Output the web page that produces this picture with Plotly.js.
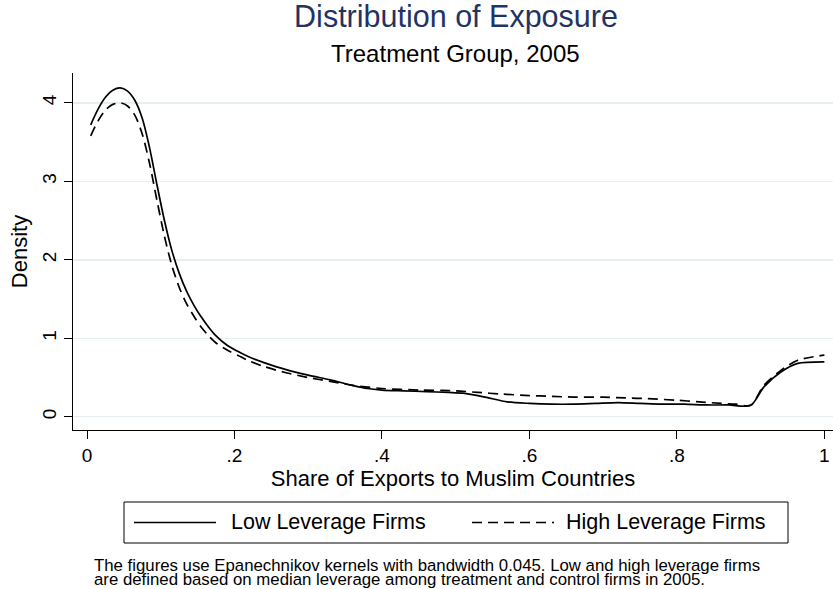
<!DOCTYPE html>
<html>
<head>
<meta charset="utf-8">
<script src="https://cdn.plot.ly/plotly-3.0.1.min.js"></script>
<style>
  html, body { margin: 0; padding: 0; background: #ffffff; }
  #chart { width: 833px; height: 589px; }
</style>
</head>
<body>
<div id="chart"></div>
<script>
// Kernel density estimates of export share, treatment firms in 2005
const lowX = [0.005, 0.015, 0.025, 0.035, 0.045, 0.055, 0.065, 0.075, 0.085, 0.095,
  0.105, 0.115, 0.125, 0.135, 0.145, 0.155, 0.165, 0.175, 0.19, 0.205, 0.22, 0.24,
  0.27, 0.30, 0.33, 0.36, 0.38, 0.40, 0.43, 0.46, 0.49, 0.51, 0.54, 0.57, 0.60,
  0.63, 0.66, 0.69, 0.72, 0.75, 0.78, 0.81, 0.84, 0.87, 0.90, 0.918, 0.941, 0.964, 1.0];
const lowY = [3.72, 3.92, 4.07, 4.16, 4.19, 4.15, 4.03, 3.80, 3.42, 2.95,
  2.50, 2.12, 1.83, 1.60, 1.42, 1.27, 1.14, 1.03, 0.91, 0.83, 0.76, 0.69,
  0.60, 0.53, 0.47, 0.40, 0.36, 0.34, 0.33, 0.32, 0.31, 0.30, 0.25, 0.19, 0.17,
  0.16, 0.16, 0.17, 0.18, 0.17, 0.16, 0.16, 0.15, 0.15, 0.145, 0.38, 0.57, 0.68, 0.70];

const highX = [0.005, 0.015, 0.025, 0.035, 0.045, 0.055, 0.065, 0.075, 0.085, 0.095,
  0.105, 0.115, 0.125, 0.135, 0.145, 0.155, 0.165, 0.175, 0.19, 0.205, 0.22, 0.24,
  0.27, 0.30, 0.33, 0.36, 0.40, 0.45, 0.50, 0.53, 0.56, 0.60, 0.63, 0.66, 0.70,
  0.73, 0.76, 0.80, 0.83, 0.86, 0.88, 0.90, 0.918, 0.941, 0.964, 1.0];
const highY = [3.58, 3.77, 3.91, 3.98, 4.00, 3.96, 3.84, 3.60, 3.22, 2.75,
  2.30, 1.93, 1.65, 1.44, 1.28, 1.14, 1.03, 0.94, 0.85, 0.78, 0.71, 0.64,
  0.56, 0.50, 0.45, 0.40, 0.36, 0.34, 0.33, 0.31, 0.29, 0.27, 0.26, 0.25, 0.25,
  0.24, 0.23, 0.21, 0.19, 0.17, 0.16, 0.145, 0.40, 0.59, 0.72, 0.785];

const xTickVals = [0, 0.2, 0.4, 0.6, 0.8, 1];
const xTickText = ['0', '.2', '.4', '.6', '.8', '1'];
const yTickVals = [0, 1, 2, 3, 4];

const seriesNames = ['Low Leverage Firms', 'High Leverage Firms'];
const noteLines = [
  'The figures use Epanechnikov kernels with bandwidth 0.045. Low and high leverage firms',
  'are defined based on median leverage among treatment and control firms in 2005.'
];

// plot area in pixels
const L = 73, R = 833, T = 73, B = 430;
const px2x = p => (p - L) / (R - L);
const py2y = p => (B - p) / (B - T);

const FONT = 'Liberation Sans, Arial, Helvetica, sans-serif';
const DASH = '10px,6px';

const traces = [
  { x: lowX, y: lowY, name: seriesNames[0], type: 'scatter', mode: 'lines',
    line: { color: '#000000', width: 1.7, shape: 'spline', smoothing: 0.8 },
    hoverinfo: 'x+y+name' },
  { x: highX, y: highY, name: seriesNames[1], type: 'scatter', mode: 'lines',
    line: { color: '#000000', width: 1.7, dash: DASH, shape: 'spline', smoothing: 0.8 },
    hoverinfo: 'x+y+name' }
];

// key box below the plot
const shapes = [
  { type: 'rect', xref: 'paper', yref: 'paper',
    x0: px2x(124), x1: px2x(788), y0: py2y(543), y1: py2y(502),
    line: { color: '#000000', width: 1 }, fillcolor: 'rgba(0,0,0,0)' },
  { type: 'line', xref: 'paper', yref: 'paper',
    x0: px2x(134), x1: px2x(216), y0: py2y(522.5), y1: py2y(522.5),
    line: { color: '#000000', width: 1.7 } },
  { type: 'line', xref: 'paper', yref: 'paper',
    x0: px2x(472), x1: px2x(554), y0: py2y(522.5), y1: py2y(522.5),
    line: { color: '#000000', width: 1.7, dash: DASH } }
];

// note set in one block; small base size keeps the two lines close together
const noteText = noteLines
  .map(s => '<span style="font-size:16.8px">' + s + '</span>')
  .join('<br>');

const annotations = [
  { text: 'Treatment Group, 2005', xref: 'paper', yref: 'paper',
    x: px2x(456), y: py2y(53.5), xanchor: 'center', yanchor: 'middle',
    showarrow: false, font: { family: FONT, size: 24, color: '#000000' } },
  { text: seriesNames[0], xref: 'paper', yref: 'paper',
    x: px2x(229), y: py2y(522), xanchor: 'left', yanchor: 'middle',
    showarrow: false, font: { family: FONT, size: 21.5, color: '#000000' } },
  { text: seriesNames[1], xref: 'paper', yref: 'paper',
    x: px2x(768), y: py2y(522), xanchor: 'right', yanchor: 'middle',
    showarrow: false, font: { family: FONT, size: 21.5, color: '#000000' } },
  { text: noteText, xref: 'paper', yref: 'paper',
    x: px2x(92), y: py2y(572), xanchor: 'left', yanchor: 'middle', align: 'left',
    showarrow: false, font: { family: FONT, size: 11, color: '#000000' } }
];

const layout = {
  width: 833, height: 589,
  paper_bgcolor: '#ffffff', plot_bgcolor: '#ffffff',
  margin: { l: L, r: 833 - R, t: T, b: 589 - B, pad: 0 },
  showlegend: false,
  font: { family: FONT, color: '#000000' },
  title: {
    text: 'Distribution of Exposure',
    font: { family: FONT, size: 30.5, color: '#1f3464' },
    xref: 'container', yref: 'container',
    x: 456 / 833, y: 1 - 16.5 / 589, xanchor: 'center', yanchor: 'middle'
  },
  xaxis: {
    range: [-0.019, 1.0117],
    tickmode: 'array', tickvals: xTickVals, ticktext: xTickText,
    ticks: 'outside', ticklen: 8, tickwidth: 1, tickcolor: '#000000',
    tickfont: { family: FONT, size: 19, color: '#000000' },
    showgrid: false, zeroline: false,
    showline: true, linecolor: '#000000', linewidth: 1,
    title: { text: 'Share of Exports to Muslim Countries',
      font: { family: FONT, size: 22, color: '#000000' }, standoff: 5 },
    automargin: false
  },
  yaxis: {
    range: [-0.169, 4.38],
    tickmode: 'array', tickvals: yTickVals,
    ticks: 'outside', ticklen: 8, tickwidth: 1, tickcolor: '#000000',
    tickangle: -90,
    tickfont: { family: FONT, size: 19, color: '#000000' },
    showgrid: true, gridcolor: '#e7eef2', gridwidth: 1.5,
    zeroline: false,
    showline: true, linecolor: '#000000', linewidth: 1,
    title: { text: 'Density',
      font: { family: FONT, size: 22, color: '#000000' }, standoff: 5 },
    automargin: false
  },
  shapes: shapes,
  annotations: annotations
};

Plotly.newPlot('chart', traces, layout, { displayModeBar: false, staticPlot: true });
</script>
</body>
</html>
